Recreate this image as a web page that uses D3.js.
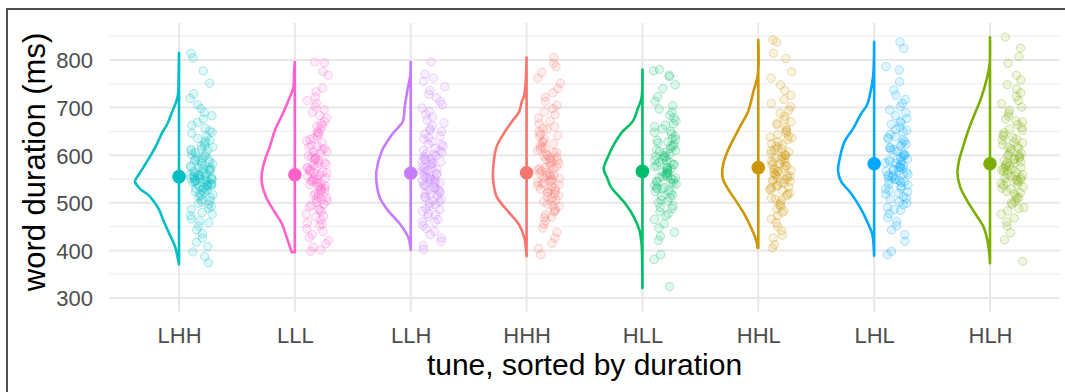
<!DOCTYPE html>
<html><head><meta charset="utf-8">
<script src="https://cdn.jsdelivr.net/npm/d3@7"></script>
<style>html,body{margin:0;padding:0;background:#fff;}svg{display:block;}</style>
</head><body>
<svg id="chart" width="1065" height="392"></svg>
<script>
// ---- data ----
const categories = ["LHH","LLL","LLH","HHH","HLL","HHL","LHL","HLH"];
const colors = ["#00BFC4","#FF61CC","#C77CFF","#F8766D","#00BE67","#CD9600","#00A9FF","#7CAE00"];
const means = [555,559,562,563,566,574,582,582];
const yTicks = [300,400,500,600,700,800];
const yMinorTicks = [350,450,550,650,750,850];

// word durations (ms) read from each tune's point cloud
const pointsLHH = [814,804,777,751,729,719,706,698,690,683,676,669,663,657,651,646,640,635,630,626,621,617,613,609,605,601,598,594,591,588,585,582,579,576,573,571,568,566,563,561,559,557,555,553,551,549,547,545,543,541,539,537,534,532,529,526,523,519,515,511,507,502,497,492,486,480,473,466,458,451,443,435,426,417,408,397,387,374,
  648,631,619,611,603,596,589,583,577,574,569,564,560,558,556,554,552,550,548,546,544,542,540,538,535,530,527,521,517,512,504,499,489,476,462,612,592,571,550,536];
const pointsLLL = [796,794,776,768,741,733,722,715,709,702,696,690,684,678,671,666,660,655,649,644,640,635,630,626,621,617,612,608,604,600,596,592,588,584,581,577,573,570,566,563,559,556,552,549,545,542,538,535,531,527,523,519,515,511,506,501,497,492,487,482,476,470,464,458,452,446,440,433,427,421,414,407,401,398,
  662,647,633,619,607,598,590,583,575,568,562,557,551,546,541,536,530,525,518,512,504,495,485,472,455,614,594,579,564,548,533,508];
const pointsLLH = [796,770,762,755,744,736,728,721,713,706,699,692,686,680,674,668,662,656,650,645,640,634,629,624,619,614,610,605,601,597,592,588,584,580,576,572,568,565,561,557,553,550,546,542,538,535,531,527,523,519,515,511,507,502,498,493,488,482,477,471,465,459,452,446,440,433,426,419,410,402,
  652,637,622,609,599,590,582,574,567,560,555,549,544,540,533,528,521,513,505,496,486,475,461,603,586,570,551,537,517,592];
const pointsHHH = [805,793,786,774,762,751,740,731,722,713,705,698,691,685,678,672,666,660,654,649,644,639,634,629,624,619,615,610,606,602,598,594,590,586,582,578,574,571,567,563,560,556,553,549,545,542,538,534,531,527,523,519,515,511,506,502,497,492,487,481,475,469,462,455,447,438,426,415,404,391,
  657,641,627,613,600,591,583,576,569,562,557,551,547,540,536,529,521,513,504,494,483,470,605,588,572,558,543,525,617,596];
const pointsHLL = [780,777,768,765,748,740,723,713,704,697,690,684,678,672,666,660,655,650,645,640,635,631,626,622,618,614,610,606,602,598,595,591,588,584,581,578,574,571,568,565,562,558,555,552,548,545,541,537,533,529,525,521,516,511,506,500,494,488,481,473,465,456,447,438,430,421,391,381,324,
  663,648,633,620,608,597,589,580,573,567,561,556,550,544,539,532,524,514,503,490,477,599,585,576,563,553,542,628,611,530];
const pointsHHL = [842,838,814,803,775,762,748,736,726,717,709,702,695,688,682,676,670,664,658,653,648,643,638,633,628,624,619,615,611,607,603,599,595,591,587,584,580,577,573,570,566,563,559,556,552,549,545,541,537,533,529,525,520,515,510,505,499,493,487,480,473,466,458,450,441,432,426,412,405,
  667,651,636,622,610,600,592,585,578,571,565,560,554,548,543,535,527,518,508,496,483,613,597,582,568,557,546,532,640,602];
const pointsLHL = [838,824,786,779,754,737,726,717,709,702,695,689,683,677,671,665,659,654,649,644,639,634,629,625,620,616,612,608,604,600,596,592,588,584,581,577,574,570,567,564,560,557,554,550,547,543,539,535,531,527,523,518,513,508,502,496,490,484,477,469,461,452,443,433,419,398,391,
  668,652,637,623,611,601,593,586,579,572,566,561,555,549,544,537,529,520,510,499,486,615,598,583,569,558,547,632,590,575];
const pointsHLH = [848,825,807,793,768,758,748,739,731,723,715,708,701,694,688,682,676,670,664,658,652,647,642,637,632,627,622,617,613,608,604,600,596,592,588,584,580,576,572,568,564,561,557,553,549,545,541,537,533,529,524,519,514,509,503,497,490,483,476,468,460,451,437,422,377,
  672,655,640,626,614,603,594,586,578,571,565,559,552,546,539,531,521,511,500,488,618,599,583,569,556,543,634,591,574,549];

// half-violin density profiles: [duration (ms), relative density]
const violinLHH = [[815,0],[760,0.01],[730,0.02],[716,0.05],[690,0.16],[665,0.27],[646,0.39],[620,0.52],[600,0.64],[576,0.8],[560,0.91],[545,1.0],[530,0.89],[515,0.68],[500,0.55],[485,0.45],[464,0.36],[437,0.23],[408,0.09],[385,0.03],[371,0]];
const violinLLL = [[796,0],[770,0.02],[744,0.03],[723,0.11],[688,0.27],[653,0.45],[618,0.57],[590,0.68],[562,0.75],[541,0.75],[513,0.66],[485,0.49],[457,0.3],[429,0.19],[401,0.09],[396,0.07]];
const violinLLH = [[796,0],[768,0.01],[734,0.08],[699,0.14],[671,0.18],[643,0.43],[608,0.66],[566,0.78],[545,0.78],[510,0.7],[482,0.5],[454,0.23],[426,0.05],[401,0]];
const violinHHH = [[805,0],[727,0.05],[712,0.11],[691,0.17],[671,0.33],[648,0.5],[618,0.68],[583,0.75],[548,0.76],[513,0.68],[482,0.42],[454,0.17],[426,0.05],[388,0]];
const violinHLL = [[780,0],[720,0.02],[699,0.1],[671,0.22],[650,0.45],[622,0.65],[597,0.78],[571,0.88],[552,0.8],[534,0.72],[510,0.5],[496,0.37],[471,0.2],[443,0.07],[415,0.02],[380,0.005],[321,0]];
const violinHHL = [[842,0],[769,0.01],[734,0.11],[692,0.23],[664,0.39],[636,0.55],[608,0.7],[580,0.8],[552,0.81],[531,0.7],[503,0.5],[475,0.31],[447,0.16],[419,0.04],[405,0.015]];
const violinLHL = [[838,0],[769,0.02],[734,0.08],[706,0.16],[685,0.31],[657,0.47],[629,0.67],[594,0.78],[566,0.82],[545,0.75],[519,0.52],[489,0.31],[461,0.16],[433,0.04],[408,0.01],[389,0]];
const violinHLH = [[848,0],[790,0.01],[758,0.08],[723,0.19],[688,0.34],[653,0.49],[618,0.61],[590,0.7],[562,0.74],[534,0.68],[506,0.53],[478,0.34],[450,0.15],[422,0.06],[394,0.015],[373,0]];

const pointSets = [pointsLHH,pointsLLL,pointsLLH,pointsHHH,pointsHLL,pointsHHL,pointsLHL,pointsHLH];
const violins = [violinLHH,violinLLL,violinLLH,violinHHH,violinHLL,violinHHL,violinLHL,violinHLH];

// ---- layout ----
const svg = d3.select("#chart");
const panel = {left:109.5, right:1059.5, top:23, bottom:312};
const font = "'Liberation Sans', Arial, Helvetica, sans-serif";

const x = d3.scalePoint().domain(categories).range([panel.left, panel.right]).padding(0.6);
const y = d3.scaleLinear().domain([270.6, 877.7]).range([panel.bottom, panel.top]);
const w = d3.scaleLinear().domain([0, 1]).range([0, 44]);

// frame
svg.append("rect").attr("x",7).attr("y",9).attr("width",1200).attr("height",500)
  .attr("fill","none").attr("stroke","#505050").attr("stroke-width",2);

const g = svg.append("g");
g.selectAll("line.minor").data(yMinorTicks.filter(v => y(v) >= panel.top)).enter().append("line")
  .attr("x1",panel.left).attr("x2",panel.right).attr("y1",d=>y(d)).attr("y2",d=>y(d))
  .attr("stroke","#efefef").attr("stroke-width",1.3);
g.selectAll("line.major").data(yTicks).enter().append("line")
  .attr("x1",panel.left).attr("x2",panel.right).attr("y1",d=>y(d)).attr("y2",d=>y(d))
  .attr("stroke","#e8e8e8").attr("stroke-width",2);
g.selectAll("line.vx").data(categories).enter().append("line")
  .attr("x1",d=>x(d)).attr("x2",d=>x(d)).attr("y1",panel.top).attr("y2",panel.bottom)
  .attr("stroke","#e8e8e8").attr("stroke-width",2);

// y axis labels
const yAxis = d3.axisLeft(y).tickValues(yTicks).tickSize(0).tickPadding(0);
const ya = svg.append("g").attr("transform","translate(93,0)").call(yAxis);
ya.select(".domain").remove();
ya.selectAll("text").attr("font-family",font).attr("font-size",22).attr("fill","#4d4d4d").attr("dy","0.36em");

// x axis labels
const xAxis = d3.axisBottom(x).tickSize(0).tickPadding(0);
const xa = svg.append("g").attr("transform","translate(0,327)").call(xAxis);
xa.select(".domain").remove();
xa.selectAll("text").attr("font-family",font).attr("font-size",22).attr("fill","#4d4d4d").attr("dy","0.72em");

// axis titles
svg.append("text").attr("x",(panel.left+panel.right)/2).attr("y",375).attr("text-anchor","middle")
  .attr("font-family",font).attr("font-size",30).attr("fill","#000").text("tune, sorted by duration");
svg.append("text").attr("transform","translate(45,162) rotate(-90)").attr("text-anchor","middle")
  .attr("font-family",font).attr("font-size",31).attr("fill","#000").text("word duration (ms)");

// violins
categories.forEach((c, i) => {
  const cx = x(c);
  const prof = violins[i];
  const line = d3.line().x(d => cx - w(d[1])).y(d => y(d[0])).curve(d3.curveCatmullRom.alpha(0.5));
  const top = prof[0][0], bot = prof[prof.length-1][0];
  const path = line(prof) + `L${cx},${y(bot)}L${cx},${y(top)}Z`;
  svg.append("path").attr("d", path).attr("fill","none").attr("stroke",colors[i])
    .attr("stroke-width",2.6).attr("stroke-linejoin","round");
});

// deterministic horizontal jitter (position only), integer hash
function jitter(k, i) {
  let h = (Math.imul(k + 1, 0x9E3779B1) ^ Math.imul(i + 7, 0x85EBCA77)) >>> 0;
  h ^= h >>> 16; h = Math.imul(h, 0x45d9f3b) >>> 0;
  h ^= h >>> 16; h = Math.imul(h, 0x45d9f3b) >>> 0;
  h ^= h >>> 16;
  return (h >>> 0) / 4294967296;
}
categories.forEach((c, i) => {
  const cx = x(c);
  svg.append("g").selectAll("circle").data(pointSets[i]).enter().append("circle")
    .attr("cx", (d, k) => cx + 11 + 23 * jitter(k, i))
    .attr("cy", d => y(d))
    .attr("r", 4.2)
    .attr("fill", colors[i]).attr("fill-opacity", 0.12)
    .attr("stroke", colors[i]).attr("stroke-opacity", 0.3).attr("stroke-width", 1);
});

// means
svg.append("g").selectAll("circle").data(categories).enter().append("circle")
  .attr("cx", d => x(d)).attr("cy", (d, i) => y(means[i])).attr("r", 6.8)
  .attr("fill", (d, i) => colors[i]);
</script>
</body></html>
